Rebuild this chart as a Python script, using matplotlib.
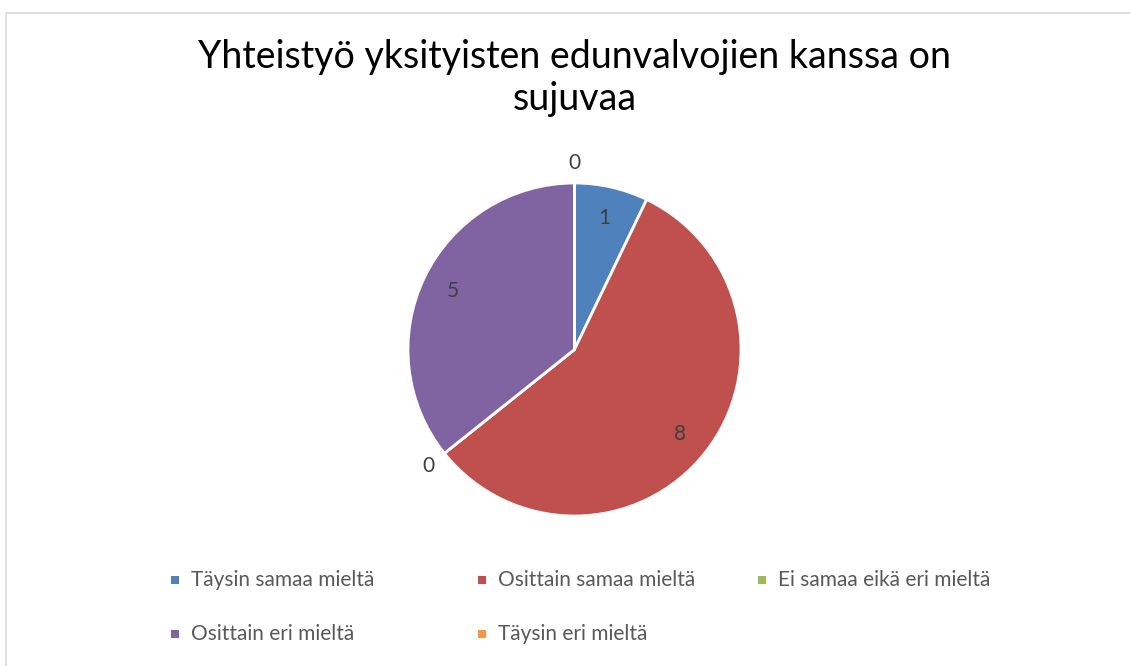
import matplotlib.pyplot as plt
import numpy as np
from matplotlib.patches import Rectangle
from matplotlib.lines import Line2D

plt.rcParams['font.family'] = ['Lato', 'DejaVu Sans']

# Data
categories = ["Täysin samaa mieltä", "Osittain samaa mieltä", "Ei samaa eikä eri mieltä",
              "Osittain eri mieltä", "Täysin eri mieltä"]
counts = [1, 8, 0, 5, 0]
colors = ["#4F81BD", "#C0504D", "#9BBB59", "#8064A2", "#F79646"]
title = "Yhteistyö yksityisten edunvalvojien kanssa on\nsujuvaa"

W, H = 1131, 666
fig = plt.figure(figsize=(W / 100, H / 100), dpi=100)

# chart border (top and left edges visible)
fig.add_artist(Line2D([6 / W, 1], [1 - 13 / H, 1 - 13 / H], color='#D9D9D9', lw=1.2))
fig.add_artist(Line2D([6 / W, 6 / W], [0, 1 - 13 / H], color='#D9D9D9', lw=1.2))

# pie axes
cx, cy, r = 574.5, 349.5, 166.5
ax = fig.add_axes([(cx - r) / W, 1 - (cy + r) / H, 2 * r / W, 2 * r / H])
wedges, _ = ax.pie(counts, colors=colors, startangle=90, counterclock=False,
                   wedgeprops=dict(edgecolor='white', linewidth=2.0))
ax.set_xlim(-1, 1)
ax.set_ylim(-1, 1)
ax.set_aspect('equal')
ax.axis('off')

for w, v in zip(wedges, counts):
    ang = np.deg2rad((w.theta1 + w.theta2) / 2)
    d = 0.81 if v > 0 else 1.12
    ax.text(d * np.cos(ang), d * np.sin(ang), str(v), ha='center', va='center',
            fontsize=15, color='#404040', clip_on=False)

fig.text(cx / W, 1 - 78 / H, title, ha='center', va='center', fontsize=27,
         color='black', linespacing=1.2)

# legend laid out row-wise like the original
col_x = [175, 482, 762]
row_y = [580, 634]
for i, (name, c) in enumerate(zip(categories, colors)):
    x = col_x[i % 3]
    y = row_y[i // 3]
    fig.add_artist(Rectangle(((x - 4) / W, 1 - (y + 4) / H), 8 / W, 8 / H,
                             facecolor=c, edgecolor='none'))
    fig.text((x + 16) / W, 1 - y / H, name, ha='left', va='center',
             fontsize=15, color='#595959')

fig.savefig('out.png', dpi=100, facecolor='white')
